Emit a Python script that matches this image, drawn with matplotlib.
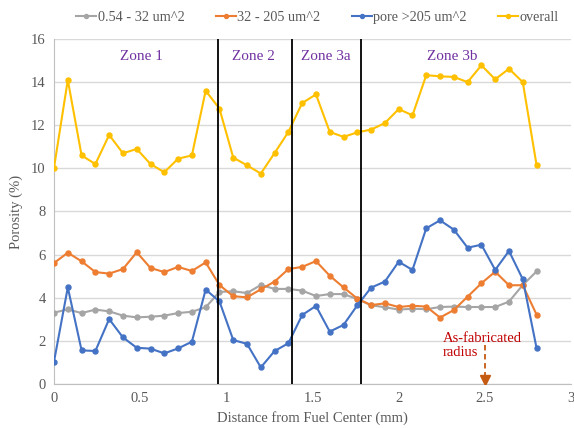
import matplotlib
matplotlib.use("Agg")
import matplotlib.pyplot as plt
import numpy as np

plt.rcParams['font.family'] = ['Liberation Serif', 'DejaVu Serif']

# Distance from fuel center (mm)
distance = [round(0.08 * i, 2) for i in range(36)]

small = [3.31, 3.46, 3.29, 3.45, 3.37, 3.17, 3.09, 3.12, 3.17, 3.29, 3.35, 3.56,
         4.27, 4.30, 4.22, 4.59, 4.41, 4.41, 4.33, 4.08, 4.17, 4.17, 3.94, 3.65,
         3.56, 3.45, 3.49, 3.47, 3.57, 3.59, 3.57, 3.57, 3.57, 3.82, 4.59, 5.22]
medium = [5.61, 6.09, 5.69, 5.19, 5.12, 5.33, 6.11, 5.38, 5.19, 5.43, 5.24, 5.64,
          4.59, 4.07, 4.02, 4.39, 4.75, 5.33, 5.43, 5.70, 5.02, 4.48, 3.96, 3.66,
          3.74, 3.57, 3.63, 3.59, 3.08, 3.43, 4.05, 4.67, 5.21, 4.58, 4.58, 3.22]
large = [1.04, 4.48, 1.56, 1.53, 3.01, 2.16, 1.68, 1.64, 1.42, 1.65, 1.96, 4.38,
         3.83, 2.04, 1.86, 0.77, 1.53, 1.89, 3.20, 3.62, 2.43, 2.74, 3.65, 4.47,
         4.75, 5.67, 5.29, 7.22, 7.59, 7.16, 6.32, 6.46, 5.29, 6.17, 4.86, 1.67]
overall = [10.03, 14.10, 10.60, 10.20, 11.55, 10.70, 10.90, 10.20, 9.82, 10.45, 10.60, 13.60,
           12.77, 10.50, 10.14, 9.76, 10.71, 11.69, 13.03, 13.43, 11.69, 11.46, 11.67, 11.80,
           12.10, 12.75, 12.46, 14.32, 14.27, 14.24, 14.00, 14.78, 14.13, 14.62, 14.00, 10.16]

series_labels = ['0.54 - 32 um^2', '32 - 205 um^2', 'pore >205 um^2', 'overall']
series_colors = ['#A5A5A5', '#ED7D31', '#4472C4', '#FFC000']

zone_bounds = [0.95, 1.38, 1.78]
zone_names = ['Zone 1', 'Zone 2', 'Zone 3a', 'Zone 3b']
zone_label_x = [0.51, 1.16, 1.58, 2.31]

fab_radius = 2.5

fig = plt.figure(figsize=(5.74, 4.28), dpi=100)
ax = fig.add_axes([0.0941, 0.1028, 0.9007, 0.8061])

for vals, lab, col in zip([small, medium, large, overall], series_labels, series_colors):
    ax.plot(distance, vals, color=col, lw=1.5, marker='o', ms=3.6, label=lab, zorder=3)

for xb in zone_bounds:
    ax.axvline(xb, color='black', lw=1.3, zorder=4)

for name, zx in zip(zone_names, zone_label_x):
    ax.text(zx, 15.2, name, color='#7030A0', fontsize=11, ha='center', va='center')

ax.set_xlim(0, 3)
ax.set_ylim(0, 16)
ax.set_yticks(np.arange(0, 17, 2))
ax.set_xticks([0, 0.5, 1, 1.5, 2, 2.5, 3])
ax.set_xticklabels(['0', '0.5', '1', '1.5', '2', '2.5', '3'])
ax.yaxis.grid(True, color='#D9D9D9', lw=1)
ax.set_axisbelow(True)
for s in ['top', 'right']:
    ax.spines[s].set_visible(False)
for s in ['left', 'bottom']:
    ax.spines[s].set_color('#BFBFBF')
ax.tick_params(axis='both', length=0, labelsize=10.5, labelcolor='#595959', pad=6)

ax.set_xlabel('Distance from Fuel Center (mm)', fontsize=10.5, color='#595959', labelpad=4)
ax.set_ylabel('Porosity (%)', fontsize=10.5, color='#595959', labelpad=6)

# As-fabricated radius annotation
ax.plot([fab_radius, fab_radius], [1.8, 0.35], color='#C55A11', lw=1.3, ls=(0, (3, 2)), zorder=5)
ax.plot([fab_radius], [0.2], marker='v', color='#C55A11', ms=7, zorder=5)
ax.text(2.256, 1.8, 'As-fabricated\nradius', color='#C00000', fontsize=10.5,
        ha='left', va='center', linespacing=1.1)

leg = fig.legend(loc='center', bbox_to_anchor=(0.553, 0.958), ncol=4, frameon=False,
                 fontsize=10.3, handlelength=1.4, handletextpad=0.1, columnspacing=2.2,
                 labelcolor='#595959', markerscale=0.8)

fig.savefig('out.png', dpi=100)
